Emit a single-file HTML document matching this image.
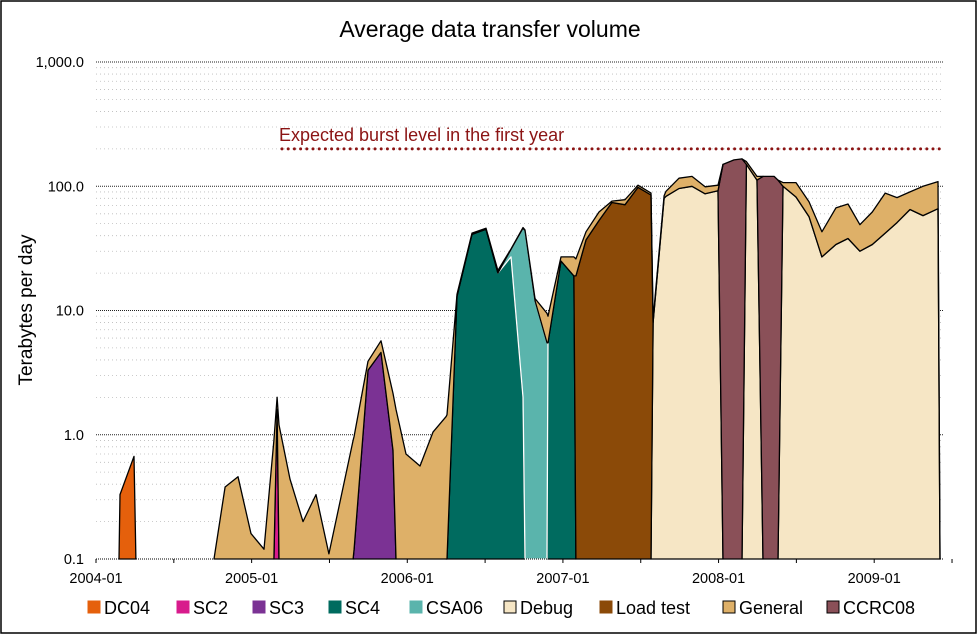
<!DOCTYPE html>
<html><head><meta charset="utf-8"><style>
body{margin:0;background:#fff;}
svg{display:block;font-family:"Liberation Sans",sans-serif;}
</style></head><body>
<svg id="chart" width="978" height="635" viewBox="0 0 978 635" xmlns="http://www.w3.org/2000/svg">
<rect x="1" y="1" width="975" height="632" fill="#fff" stroke="#000" stroke-width="1.5"/>
<text x="490" y="37" font-size="23" text-anchor="middle" fill="#000">Average data transfer volume</text>
<text transform="translate(32,310) rotate(-90)" font-size="19" text-anchor="middle" fill="#000">Terabytes per day</text>
<g id="grid"></g>
<g id="areas"></g>
<g id="axes"></g>
<g id="legend"></g>
</svg>
<script>
const months = [1.77,1.85,2.93,3.08,9.10,9.95,10.95,11.95,12.95,13.72,13.96,14.11,14.96,15.96,16.96,17.96,19.82,19.9,20.97,21.97,22.9,23.13,23.9,24.98,25.98,26.99,27.06,27.83,28.99,30.07,30.99,32.0,32.92,33.08,33.85,34.77,34.85,35.85,36.85,37.0,37.78,38.78,39.78,40.79,41.79,42.79,42.95,43.8,43.95,44.95,45.95,46.96,47.96,48.34,49.19,49.81,50.15,50.96,51.43,52.28,52.58,52.97,53.97,54.97,55.97,57.05,57.98,58.9,59.85,60.85,61.76,62.76,63.76,64.92,65.07];
const dc04 =   [0,.33,.67,0,0,0,0,0,0,0,0,0,0,0,0,0,0,0,0,0,0,0,0,0,0,0,0,0,0,0,0,0,0,0,0,0,0,0,0,0,0,0,0,0,0,0,0,0,0,0,0,0,0,0,0,0,0,0,0,0,0,0,0,0,0,0,0,0,0,0,0,0,0,0,0];
const sc2 =    [0,0,0,0,0,0,0,0,0,0,1.6,0,0,0,0,0,0,0,0,0,0,0,0,0,0,0,0,0,0,0,0,0,0,0,0,0,0,0,0,0,0,0,0,0,0,0,0,0,0,0,0,0,0,0,0,0,0,0,0,0,0,0,0,0,0,0,0,0,0,0,0,0,0,0,0];
const sc3 =    [0,0,0,0,0,0,0,0,0,0,0,0,0,0,0,0,0,.12,3.3,4.6,.75,0,0,0,0,0,0,0,0,0,0,0,0,0,0,0,0,0,0,0,0,0,0,0,0,0,0,0,0,0,0,0,0,0,0,0,0,0,0,0,0,0,0,0,0,0,0,0,0,0,0,0,0,0,0];
const sc4 =    [0,0,0,0,0,0,0,0,0,0,0,0,0,0,0,0,0,0,0,0,0,0,0,0,0,0,.05,13,41,45,20,27,2,0,0,0,5.5,25,19,0,0,0,0,0,0,0,0,0,0,0,0,0,0,0,0,0,0,0,0,0,0,0,0,0,0,0,0,0,0,0,0,0,0,0,0];
const csa06 =  [0,0,0,0,0,0,0,0,0,0,0,0,0,0,0,0,0,0,0,0,0,0,0,0,0,0,0,0,0,0,0,4,44,44,12,5.5,0,0,0,0,0,0,0,0,0,0,0,0,0,0,0,0,0,0,0,0,0,0,0,0,0,0,0,0,0,0,0,0,0,0,0,0,0,0,0];
const debug =  [0,0,0,0,0,0,0,0,0,0,0,0,0,0,0,0,0,0,0,0,0,0,0,0,0,0,0,0,0,0,0,0,0,0,0,0,0,0,0,0,0,0,0,0,0,0,8,80,83,96,100,87,92,0,0,0,150,112,0,0,0,100,82,57,27,34,38,30,34,42,51,65,58,66,0];
const loadTest=[0,0,0,0,0,0,0,0,0,0,0,0,0,0,0,0,0,0,0,0,0,0,0,0,0,0,0,0,0,0,0,0,0,0,0,0,0,0,0,19,37,53,74,71,98,85,0,0,0,0,0,0,0,0,0,0,0,0,0,0,0,0,0,0,0,0,0,0,0,0,0,0,0,0,0];
const ccrc08 = [0,0,0,0,0,0,0,0,0,0,0,0,0,0,0,0,0,0,0,0,0,0,0,0,0,0,0,0,0,0,0,0,0,0,0,0,0,0,0,0,0,0,0,0,0,0,0,0,0,0,0,0,0,150,163,166,0,0,120,120,112,0,0,0,0,0,0,0,0,0,0,0,0,0,0];
const general =[0,0,0,0,0,.38,.46,.16,.12,.9,.4,1.2,.44,.2,.33,.11,.9,.85,.6,1.1,1.4,1.6,.7,.56,1.05,1.4,1.4,.5,1,1,1,.3,.5,.5,.5,4,3.5,2,8,7,6,9,2,7,4,3,.5,4,8,20,20,12,10,0,0,0,8,8,0,0,0,7,25,18,16,33,34,19,28,46,30,25,42,43,0];
const yTickValues = [0.1,1,10,100,1000];
const yTickLabels = ["0.1","1.0","10.0","100.0","1,000.0"];
const xTickMonths = [0,12,24,36,48,60];
const xTickLabels = ["2004-01","2005-01","2006-01","2007-01","2008-01","2009-01"];
const burstLevel = 200;

const NS="http://www.w3.org/2000/svg";
const X0=96, PXM=12.97, YB=559, DEC=124.25, XR=943;
function xs(m){return X0+m*PXM;}
function ys(v){if(v<0.1)v=0.1;return YB-(Math.log10(v)+1)*DEC;}
function mk(tag,parent,attrs){const e=document.createElementNS(NS,tag);for(const k in attrs)e.setAttribute(k,attrs[k]);parent.appendChild(e);return e;}

const grid=document.getElementById('grid');
for(let d=-1;d<3;d++){for(let k=2;k<=9;k++){const y=ys(k*Math.pow(10,d));
 const l=mk('line',grid,{x1:X0,x2:XR,y1:y,y2:y,stroke:'#bbb','stroke-width':0.8,'stroke-dasharray':'1 3'});
 
 }}
yTickValues.forEach((v,i)=>{const y=ys(v);
 if(i>0){const l=mk('line',grid,{x1:X0,x2:XR,y1:y,y2:y,stroke:'#222','stroke-width':0.9,'stroke-dasharray':'1 1'});
 
 }
 const t=mk('text',grid,{x:84,y:y+5,'font-size':14.5,'text-anchor':'end',fill:'#000'});
 
 
 t.textContent=yTickLabels[i];});

const layers=[[dc04,'#e5600c','#000'],[sc2,'#d81b8c','#000'],[sc3,'#7b3294','#000'],[sc4,'#006b5f','#000'],[csa06,'#5ab4ac','#fff'],[debug,'#f6e6c5','#000'],[loadTest,'#8b4a08','#000'],[ccrc08,'#8a5058','#000'],[general,'#deb068','#000']];
const names=['dc04','sc2','sc3','sc4','csa06','debug','load-test','ccrc08','general'];
const areas=document.getElementById('areas');
const n=months.length;let base=new Array(n).fill(0);
layers.forEach((L,li)=>{const vals=L[0];const top=base.map((b,i)=>b+vals[i]);
 let i=0;
 while(i<n){if(vals[i]>0){let s=i;while(i<n&&vals[i]>0)i++;let e=i-1;
  const a=Math.max(0,s-1),b=Math.min(n-1,e+1);let pts=[];
  for(let j=a;j<=b;j++)pts.push(xs(months[j]).toFixed(1)+','+ys(top[j]).toFixed(1));
  for(let j=b;j>=a;j--)pts.push(xs(months[j]).toFixed(1)+','+ys(base[j]).toFixed(1));
  const p=mk('polygon',areas,{points:pts.join(' '),fill:L[1],stroke:L[2],'stroke-width':1.3,'stroke-linejoin':'round'});
  
  
 }else i++;}
 base=top;});

const axes=document.getElementById('axes');
const bl=mk('line',axes,{x1:X0,x2:XR,y1:YB,y2:YB,stroke:'#000','stroke-width':1,'stroke-dasharray':'1 1'});


for(let m=0;m<=66;m+=6){const tk=mk('line',axes,{x1:xs(m),x2:xs(m),y1:YB,y2:YB+4,stroke:'#000','stroke-width':1});
 
 }
xTickMonths.forEach((m,i)=>{const t=mk('text',axes,{x:xs(m),y:583,'font-size':14.5,'text-anchor':'middle',fill:'#000'});
 
 
 t.textContent=xTickLabels[i];});
const by=ys(burstLevel);
const bline=mk('line',axes,{x1:282,x2:XR,y1:by,y2:by,stroke:'#8b1414','stroke-width':3,'stroke-linecap':'round','stroke-dasharray':'0 6.2'});


const bt=mk('text',axes,{x:279,y:by-8,'font-size':18,fill:'#8b1414'});


bt.textContent='Expected burst level in the first year';

const legendItems=[['DC04','#e5600c',88],['SC2','#d81b8c',177],['SC3','#7b3294',253],['SC4','#006b5f',329],['CSA06','#5ab4ac',410],['Debug','#f6e6c5',504],['Load test','#8b4a08',600],['General','#deb068',723],['CCRC08','#8a5058',827]];
const lg=document.getElementById('legend');
legendItems.forEach(it=>{const g=mk('g',lg,{});
 
 
 const dark=(it[0]==='Debug'||it[0]==='General'||it[0]==='CCRC08');
 mk('rect',g,{x:it[2],y:601,width:12,height:12,fill:it[1],stroke:dark?'#000':it[1],'stroke-width':1});
 const t=mk('text',g,{x:it[2]+16,y:614,'font-size':18,fill:'#000'});t.textContent=it[0];});
</script>
</body></html>
